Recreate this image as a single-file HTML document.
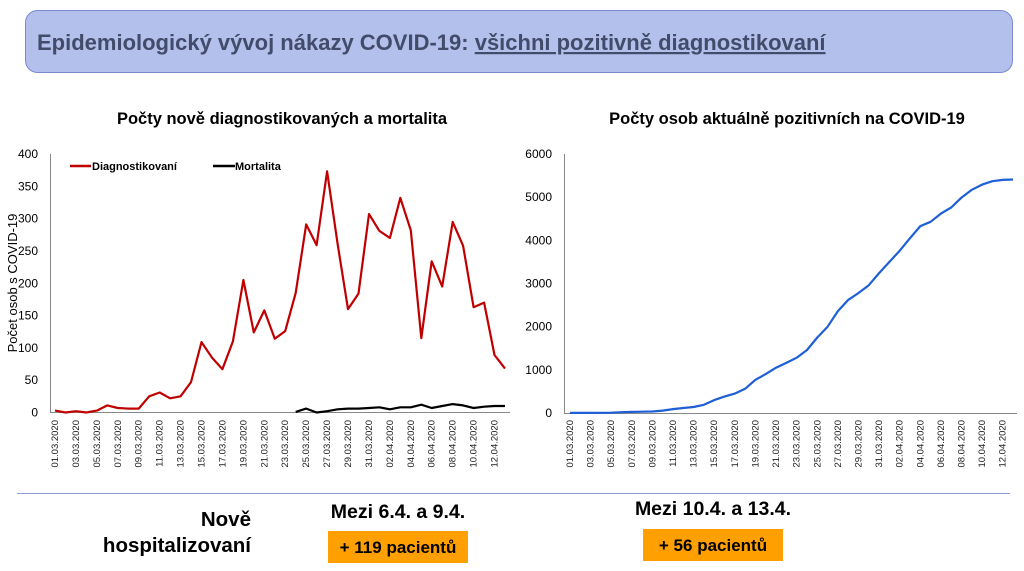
<!DOCTYPE html>
<html><head><meta charset="utf-8"><style>
html,body{margin:0;padding:0;background:#fff}
svg{display:block;font-family:"Liberation Sans",Calibri,sans-serif}
</style></head><body>
<svg id="s" width="1024" height="571" viewBox="0 0 1024 571" xmlns="http://www.w3.org/2000/svg">
<rect x="25.5" y="10.5" width="987" height="62" rx="12" fill="#b4c0ec" stroke="#7b8ad0" stroke-width="1"/>
<text x="37" y="50" font-size="22" font-weight="bold" fill="#434b6a">Epidemiologický vývoj nákazy COVID-19: <tspan text-decoration="underline">všichni pozitivně diagnostikovaní</tspan></text>
<text x="282" y="124" font-size="16.5" font-weight="bold" text-anchor="middle" fill="#000">Počty nově diagnostikovaných a mortalita</text>
<text x="787" y="124" font-size="16.5" font-weight="bold" text-anchor="middle" fill="#000">Počty osob aktuálně pozitivních na COVID-19</text>
<line x1="17" y1="493.5" x2="1010" y2="493.5" stroke="#8e9ad6" stroke-width="1"/>
<text x="251" y="526" font-size="20.5" font-weight="bold" text-anchor="end">Nově</text>
<text x="251" y="552" font-size="20.5" font-weight="bold" text-anchor="end">hospitalizovaní</text>
<text x="398" y="518" font-size="19.5" font-weight="bold" text-anchor="middle">Mezi 6.4. a 9.4.</text>
<rect x="328" y="531" width="140" height="32" fill="#ffa000"/>
<text x="398" y="553" font-size="17" font-weight="bold" text-anchor="middle">+ 119 pacientů</text>
<text x="713" y="515" font-size="19.5" font-weight="bold" text-anchor="middle">Mezi 10.4. a 13.4.</text>
<rect x="643" y="529" width="140" height="32" fill="#ffa000"/>
<text x="713" y="551" font-size="17" font-weight="bold" text-anchor="middle">+ 56 pacientů</text>
<g id="g"></g>
</svg>
<script>
var g=document.getElementById('g'),h='';
var red=[3,0,2,0,3,11,7,6,6,25,31,22,25,47,109,85,67,110,205,124,158,114,126,185,291,259,373,261,160,184,307,281,270,332,282,115,234,195,295,258,163,170,89,68];
var mort=[1,6,0,2,5,6,6,7,8,5,8,8,12,7,10,13,11,7,9,10,10];
var blue=[3,3,5,5,8,18,25,30,35,55,90,115,140,190,300,380,450,560,770,900,1050,1160,1280,1460,1750,2000,2360,2620,2780,2960,3240,3500,3760,4050,4330,4430,4620,4760,4990,5170,5290,5370,5400,5410];
function dates(i){var d=new Date(2020,2,1+i);var dd=('0'+d.getDate()).slice(-2),mm=('0'+(d.getMonth()+1)).slice(-2);return dd+'.'+mm+'.2020';}
var L0=55,Ls=(505-55)/43,Ly0=412.5,Lk=(412.5-154)/400;
h+='<line x1="50.5" y1="154" x2="50.5" y2="413" stroke="#888"/><line x1="50" y1="412.5" x2="510" y2="412.5" stroke="#888"/>';
for(var v=0;v<=400;v+=50)h+='<text x="38" y="'+(Ly0-v*Lk+4)+'" font-size="12" text-anchor="end">'+v+'</text>';
h+='<text transform="translate(17,283) rotate(-90)" font-size="13" text-anchor="middle">Počet osob s COVID-19</text>';
var p='';red.forEach(function(v,i){p+=(i?'L':'M')+(L0+i*Ls).toFixed(1)+','+(Ly0-v*Lk).toFixed(1)});
h+='<path d="'+p+'" fill="none" stroke="#c00000" stroke-width="2.2" stroke-linejoin="round"/>';
p='';mort.forEach(function(v,i){p+=(i?'L':'M')+(L0+(i+23)*Ls).toFixed(1)+','+(Ly0-v*Lk).toFixed(1)});
h+='<path d="'+p+'" fill="none" stroke="#000" stroke-width="2.2" stroke-linejoin="round"/>';
h+='<line x1="70" y1="166" x2="91" y2="166" stroke="#c00000" stroke-width="2.5"/><text x="92" y="170" font-size="11" font-weight="bold">Diagnostikovaní</text>';
h+='<line x1="213" y1="166" x2="235" y2="166" stroke="#000" stroke-width="2.5"/><text x="235" y="170" font-size="11" font-weight="bold">Mortalita</text>';
for(var i=0;i<43;i+=2){var x=L0+i*Ls+3;h+='<text transform="translate('+x+',420) rotate(-90)" font-size="9.5" text-anchor="end" fill="#222">'+dates(i)+'</text>';}
var R0=570,Rs=(1013-570)/43,Ry0=413,Rk=(413-154)/6000;
h+='<line x1="564.5" y1="154" x2="564.5" y2="414" stroke="#888"/><line x1="564" y1="413.5" x2="1017" y2="413.5" stroke="#888"/>';
for(var v=0;v<=6000;v+=1000)h+='<text x="552" y="'+(Ry0-v*Rk+4)+'" font-size="12" text-anchor="end">'+v+'</text>';
p='';blue.forEach(function(v,i){p+=(i?'L':'M')+(R0+i*Rs).toFixed(1)+','+(Ry0-v*Rk).toFixed(1)});
h+='<path d="'+p+'" fill="none" stroke="#1f5fd6" stroke-width="2.2" stroke-linejoin="round"/>';
for(var i=0;i<43;i+=2){var x=R0+i*Rs+3;h+='<text transform="translate('+x+',420) rotate(-90)" font-size="9.5" text-anchor="end" fill="#222">'+dates(i)+'</text>';}
g.innerHTML=h;
</script>
</body></html>
